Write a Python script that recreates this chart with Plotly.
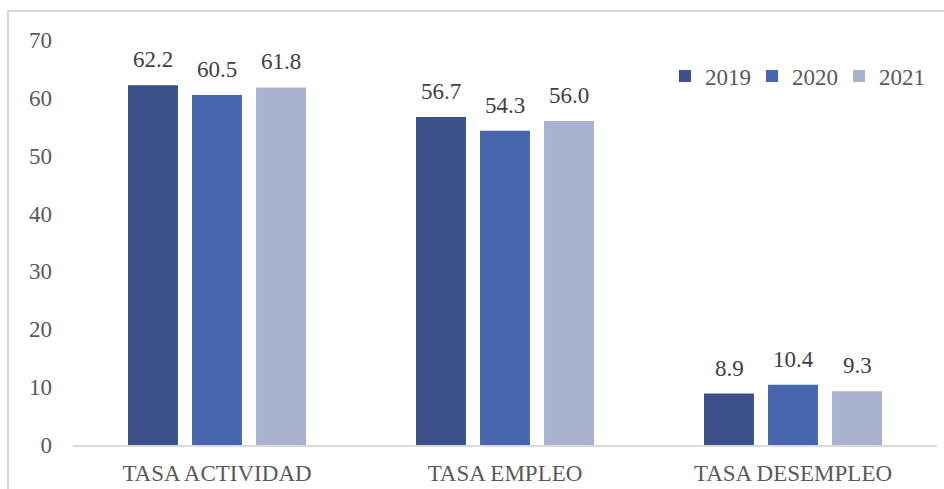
import plotly.graph_objects as go

categories = ["TASA ACTIVIDAD", "TASA EMPLEO", "TASA DESEMPLEO"]
years = ["2019", "2020", "2021"]
v2019 = [62.2, 56.7, 8.9]
v2020 = [60.5, 54.3, 10.4]
v2021 = [61.8, 56.0, 9.3]
colors = ["#3C5189", "#4866AE", "#A9B1D0"]

FONT = "Liberation Serif"
TXT = "#595959"

fig = go.Figure()
annotations = []
for i, (name, vals, col) in enumerate(zip(years, [v2019, v2020, v2021], colors)):
    fig.add_trace(go.Bar(
        x=categories, y=vals, name=name, marker_color=col,
        marker_line_width=0,
    ))
    for c, v in zip(categories, vals):
        annotations.append(dict(
            x=c, y=v, xref="x", yref="y", text=f"{v:.1f}", showarrow=False,
            xanchor="center", yanchor="bottom", xshift=(i - 1) * 64, yshift=11,
            font=dict(family=FONT, size=23, color="#404040"),
        ))

W, H = 944, 489
L, R, T, B = 73, 7, 40, 44
pw, ph = W - L - R, H - T - B

fig.update_layout(
    width=W, height=H,
    margin=dict(l=L, r=R, t=T, b=B, autoexpand=False),
    paper_bgcolor="white", plot_bgcolor="white",
    barmode="group", bargap=0.333, bargroupgap=0.22,
    font=dict(family=FONT, size=23, color=TXT),
    showlegend=True,
    legend=dict(orientation="h", x=(665 - L) / pw, xanchor="left",
                y=(H - B - 76) / ph, yanchor="middle",
                font=dict(family=FONT, size=23, color=TXT),
                bgcolor="rgba(0,0,0,0)", entrywidth=42, entrywidthmode="pixels",
                traceorder="normal"),
    xaxis=dict(showline=True, linecolor="#D9D9D9", linewidth=2, ticks="",
               tickfont=dict(family=FONT, size=23, color=TXT), showgrid=False,
               ticklabelstandoff=6, automargin=False),
    yaxis=dict(range=[0, 70], dtick=10, showgrid=False, zeroline=False,
               showline=False, ticks="", tickfont=dict(family=FONT, size=23, color=TXT),
               ticklabelstandoff=20, automargin=False),
    annotations=annotations,
    shapes=[dict(type="rect", xref="paper", yref="paper",
                 x0=(8 - L) / pw, x1=(980 - L) / pw,
                 y0=(H - B - 530) / ph, y1=(H - B - 11) / ph,
                 line=dict(color="#D9D9D9", width=2), fillcolor="rgba(0,0,0,0)")],
)

fig.write_html("out.html", config={"displayModeBar": False},
               post_script="document.body.style.margin='0';document.body.style.overflow='hidden';")
